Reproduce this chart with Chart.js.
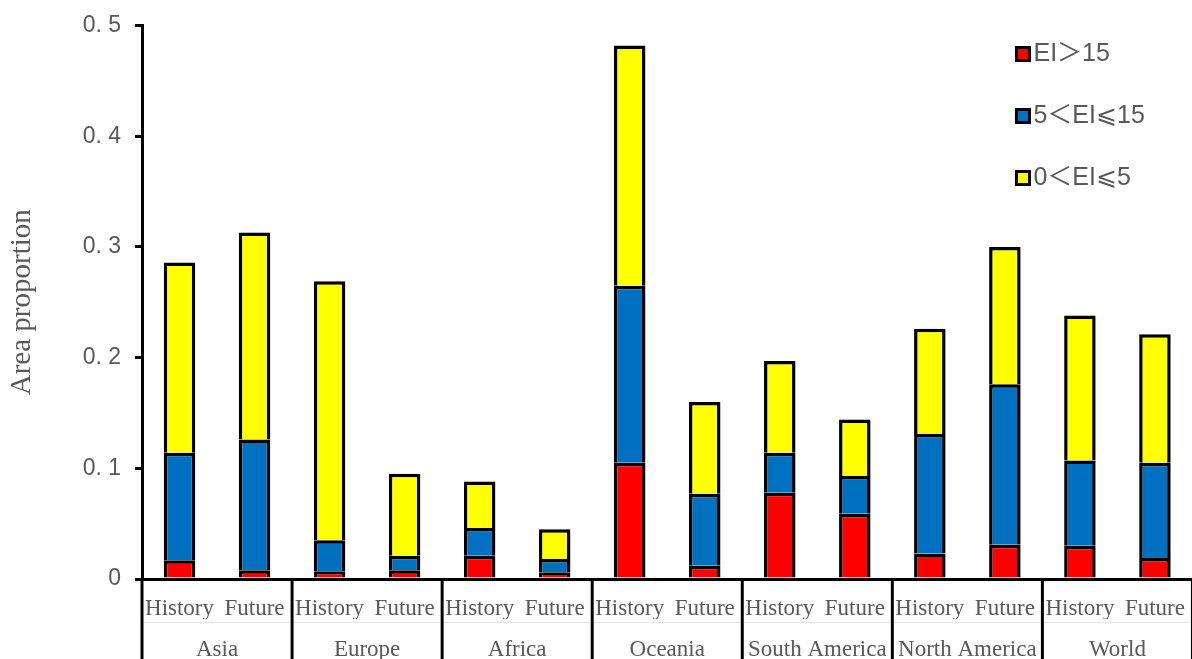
<!DOCTYPE html>
<html>
<head>
<meta charset="utf-8">
<script src="https://cdn.jsdelivr.net/npm/chart.js@4"></script>
<style>
    html, body { margin: 0; padding: 0; overflow: hidden; background: #fff; }
</style>
</head>
<body>
<canvas id="chart" width="1201" height="659"></canvas>
<script>
// Data
const regions = ['Asia', 'Europe', 'Africa', 'Oceania', 'South America', 'North America', 'World'];
const periods = ['History', 'Future', 'History', 'Future', 'History', 'Future', 'History', 'Future',
    'History', 'Future', 'History', 'Future', 'History', 'Future'];
const seriesNames = ['EI＞15', '5＜EI⩽15', '0＜EI⩽5'];
const eiHigh = [0.017, 0.008, 0.007, 0.008, 0.021, 0.006, 0.105, 0.012, 0.078, 0.059, 0.023, 0.031, 0.030, 0.019];
const eiMid  = [0.097, 0.118, 0.028, 0.013, 0.025, 0.012, 0.160, 0.065, 0.036, 0.034, 0.108, 0.145, 0.077, 0.086];
const eiLow  = [0.172, 0.187, 0.234, 0.074, 0.042, 0.027, 0.217, 0.083, 0.083, 0.051, 0.095, 0.124, 0.131, 0.116];
const yTickLabels = ['0', '0. 1', '0. 2', '0. 3', '0. 4', '0. 5'];
const seriesColors = ['#FF0000', '#0070C0', '#FFFF00'];

const grey = '#595959';

// black separators between the region groups under the axis
const separatorPlugin = {
    id: 'separators',
    afterDraw(chart) {
        let ctx = chart.ctx;
        let x = chart.scales.x;
        let pitch = x.width / periods.length;
        ctx.save();
        ctx.strokeStyle = '#e6e6e6';
        ctx.lineWidth = 1;
        ctx.beginPath();
        ctx.moveTo(chart.chartArea.left, 622.5);
        ctx.lineTo(chart.chartArea.right, 622.5);
        ctx.stroke();
        ctx.strokeStyle = '#000';
        ctx.lineWidth = 3;
        for (let k = 0; k <= regions.length; k++) {
            let px = x.getPixelForValue(k * 2) - pitch / 2;
            ctx.beginPath();
            ctx.moveTo(px, chart.chartArea.bottom);
            ctx.lineTo(px, chart.height);
            ctx.stroke();
        }
        ctx.restore();
    }
};

// legend sitting inside the plot, top right
const cornerLegend = {
    id: 'cornerLegend',
    afterDraw(chart) {
        let ctx = chart.ctx;
        let area = chart.chartArea;
        let x0 = area.right - 176;
        ctx.save();
        chart.data.datasets.forEach((ds, i) => {
            let cy = area.top + 28 + i * 62;
            ctx.fillStyle = ds.backgroundColor;
            ctx.fillRect(x0, cy - 6, 13, 13);
            ctx.strokeStyle = '#000';
            ctx.lineWidth = 3;
            ctx.strokeRect(x0, cy - 6, 13, 13);
            ctx.fillStyle = grey;
            ctx.font = '25px "Liberation Sans", "Noto Sans CJK SC"';
            ctx.textBaseline = 'middle';
            ctx.fillText(ds.label, x0 + 17, cy + 1);
        });
        ctx.restore();
    }
};

let datasets = [eiHigh, eiMid, eiLow].map((values, i) => ({
    label: seriesNames[i],
    data: values,
    backgroundColor: seriesColors[i],
    borderColor: '#000',
    borderWidth: 3.5,
    barPercentage: 0.42,
    categoryPercentage: 1.0,
}));

let ctx = document.getElementById('chart').getContext('2d');
let chart = new Chart(ctx, {
    type: 'bar',
    data: {
        labels: periods,
        datasets: datasets
    },
    options: {
        responsive: false,
        animation: false,
        devicePixelRatio: 1,
        layout: {
            padding: { top: 17, right: 1, bottom: 0, left: 0 }
        },
        plugins: {
            legend: { display: false },
            tooltip: { enabled: false },
        },
        scales: {
            x: {
                stacked: true,
                offset: true,
                grid: { display: false, drawTicks: false },
                border: { display: true, color: '#000', width: 3 },
                ticks: {
                    color: grey,
                    padding: 16,
                    maxRotation: 0,
                    autoSkip: false,
                    font: { family: '"Liberation Serif"', size: 23 }
                },
                afterFit: function (scale) { scale.height = 40; }
            },
            x2: {
                type: 'category',
                labels: regions,
                position: 'bottom',
                offset: true,
                grid: { display: false, drawTicks: false },
                border: { display: false },
                ticks: {
                    color: grey,
                    padding: 17,
                    maxRotation: 0,
                    autoSkip: false,
                    font: { family: '"Liberation Serif"', size: 23 }
                },
                afterFit: function (scale) { scale.height = 40; }
            },
            y: {
                stacked: true,
                min: 0,
                max: 0.5,
                ticks: {
                    stepSize: 0.1,
                    color: grey,
                    padding: 14,
                    font: { family: '"Liberation Sans"', size: 23, lineHeight: 1 },
                    callback: function (value, index) { return yTickLabels[index]; }
                },
                grid: {
                    drawOnChartArea: false,
                    drawTicks: true,
                    tickLength: 7,
                    lineWidth: 3,
                    color: '#000'
                },
                border: { display: true, color: '#000', width: 3 },
                title: {
                    display: true,
                    text: 'Area proportion',
                    color: grey,
                    padding: { top: 5, bottom: 4 },
                    font: { family: '"Liberation Serif"', size: 29 }
                },
                afterFit: function (scale) { scale.width = 142; }
            }
        }
    },
    plugins: [separatorPlugin, cornerLegend]
});
</script>
</body>
</html>
